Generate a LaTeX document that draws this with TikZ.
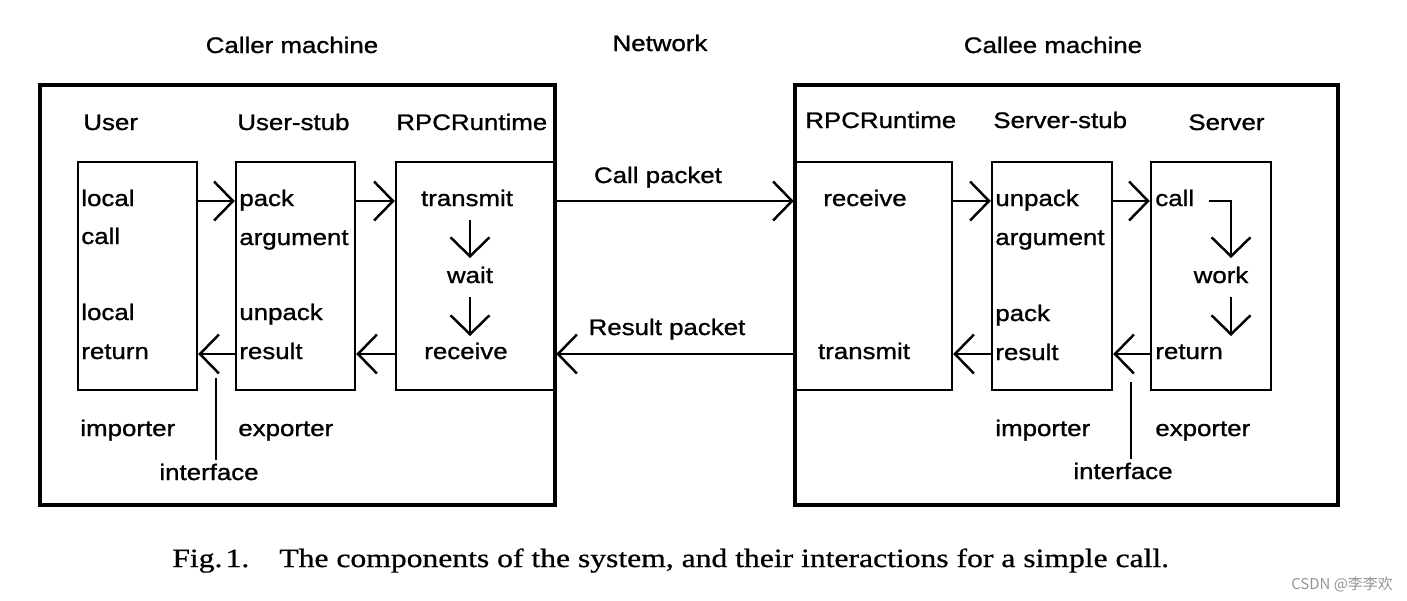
\documentclass[tikz,border=0pt]{standalone}
\usepackage{fontspec}
\setmainfont[FakeStretch=1.15,FakeBold=1.1]{Liberation Sans}
\newfontfamily\capfont[FakeStretch=1.2,FakeBold=0.8]{Liberation Serif}
\newfontfamily\cjk{Noto Sans CJK SC}
\usetikzlibrary{arrows.meta}
\begin{document}
\begin{tikzpicture}[x=0.02cm,y=-0.02cm,
  thin box/.style={draw,line width=1.4pt,minimum height=4.56cm,inner sep=0},
  thick box/.style={draw,line width=2.4pt,minimum height=8.4cm,inner sep=0},
  lbl/.style={inner sep=0,anchor=base west,font=\fontsize{12.8}{14}\selectfont},
  lblc/.style={inner sep=0,anchor=base,font=\fontsize{12.8}{14}\selectfont},
  arr/.style={line width=1.4pt,-{Straight Barb[length=0.38cm,width=0.78cm]}},
  ln/.style={line width=1.4pt},
  captxt/.style={inner sep=0,anchor=base west,font=\capfont\fontsize{15}{17}\selectfont}]
\useasboundingbox (0,0) rectangle (1407,600);
% outer machines
\node[thick box,minimum width=10.3cm] (caller) at (297.5,295) {};
\node[thick box,minimum width=10.86cm] (callee) at (1066.5,295) {};
% inner boxes
\node[thin box,minimum width=2.38cm] (user) at (137.5,276) {};
\node[thin box,minimum width=2.38cm] (ustub) at (295.5,276) {};
\node[thin box,minimum width=3.18cm] (rpcl) at (475.5,276) {};
\node[thin box,minimum width=3.14cm] (rpcr) at (873.5,276) {};
\node[thin box,minimum width=2.4cm] (sstub) at (1052,276) {};
\node[thin box,minimum width=2.4cm] (server) at (1211,276) {};
% titles
\node[lblc] (tcaller) at (292,53) {Caller machine};
\node[lblc] (tnet) at (660,51) {Network};
\node[lblc] (tcallee) at (1053,53) {Callee machine};
\node[lbl] (tuser) at (83,130) {User};
\node[lbl] (tustub) at (237,130) {User-stub};
\node[lbl] (trpcl) at (396,130) {RPCRuntime};
\node[lbl] (trpcr) at (805,128) {RPCRuntime};
\node[lbl] (tsstub) at (993,128) {Server-stub};
\node[lbl] (tserver) at (1188,130) {Server};
% user
\node[lbl] (u1) at (81,206) {local};
\node[lbl] (u2) at (81,244) {call};
\node[lbl] (u3) at (81,320) {local};
\node[lbl] (u4) at (81,359) {return};
% user stub
\node[lbl] (us1) at (239,206) {pack};
\node[lbl] (us2) at (239,245) {argument};
\node[lbl] (us3) at (239,320) {unpack};
\node[lbl] (us4) at (239,359) {result};
% rpc left
\node[lblc] (rl1) at (467,206) {transmit};
\node[lblc] (rl2) at (470,283) {wait};
\node[lblc] (rl3) at (466,359) {receive};
% rpc right
\node[lblc] (rr1) at (865,206) {receive};
\node[lblc] (rr2) at (864,359) {transmit};
% server stub
\node[lbl] (ss1) at (995,206) {unpack};
\node[lbl] (ss2) at (995,245) {argument};
\node[lbl] (ss3) at (995,321) {pack};
\node[lbl] (ss4) at (995,360) {result};
% server
\node[lbl] (sv1) at (1155,206) {call};
\node[lblc] (sv2) at (1221,283) {work};
\node[lbl] (sv3) at (1155,359) {return};
% bottom labels
\node[lbl] (imp1) at (80,436) {importer};
\node[lbl] (exp1) at (238,436) {exporter};
\node[lbl] (imp2) at (995,436) {importer};
\node[lbl] (exp2) at (1155,436) {exporter};
\node[lblc,outer sep=2pt] (if1) at (209,480) {interface};
\node[lblc,outer sep=2pt] (if2) at (1123,479) {interface};
% packets
\node[lblc] (cp) at (658,183) {Call packet};
\node[lblc] (rp) at (667,335) {Result packet};
% row levels
\coordinate (r1) at (0,201);
\coordinate (r4) at (0,354);
% horizontal arrows
\draw[arr] (user.east |- r1) -- (ustub.west |- r1);
\draw[arr] (ustub.east |- r1) -- (rpcl.west |- r1);
\draw[arr] (rpcl.east |- r1) -- (rpcr.west |- r1);
\draw[arr] (rpcr.east |- r1) -- (sstub.west |- r1);
\draw[arr] (sstub.east |- r1) -- (server.west |- r1);
\draw[arr] (server.west |- r4) -- (sstub.east |- r4);
\draw[arr] (sstub.west |- r4) -- (rpcr.east |- r4);
\draw[arr] (rpcr.west |- r4) -- (rpcl.east |- r4);
\draw[arr] (rpcl.west |- r4) -- (ustub.east |- r4);
\draw[arr] (ustub.west |- r4) -- (user.east |- r4);
% vertical flow arrows
\coordinate (wl1) at (470,220);
\coordinate (wl2) at (470,258);
\coordinate (wl3) at (470,297);
\coordinate (wl4) at (470,336);
\draw[arr] (wl1) -- (wl2);
\draw[arr] (wl3) -- (wl4);
\coordinate (c0) at (1209,201);
\coordinate (c1) at (1231,201);
\coordinate (c2) at (1231,258);
\coordinate (c3) at (1231,297);
\coordinate (c4) at (1231,336);
\draw[arr] (c0) -- (c1) -- (c2);
\draw[arr] (c3) -- (c4);
% interface lines
\coordinate (i1) at (216,378);
\coordinate (i2) at (1131,382);
\draw[ln] (i1) -- (i1 |- if1.north);
\draw[ln] (i2) -- (i2 |- if2.north);
% caption
\node[captxt] (fig) at (172,567) {Fig.\hspace{0.12em}1.};
\node[captxt] (cap) at (279,567) {The components of the system, and their interactions for a simple call.};
\node[inner sep=0,anchor=base,text=black!42,font=\cjk\fontsize{8.5}{10}\selectfont] (wm) at (1342,589) {CSDN @李李欢};
\end{tikzpicture}
\end{document}
